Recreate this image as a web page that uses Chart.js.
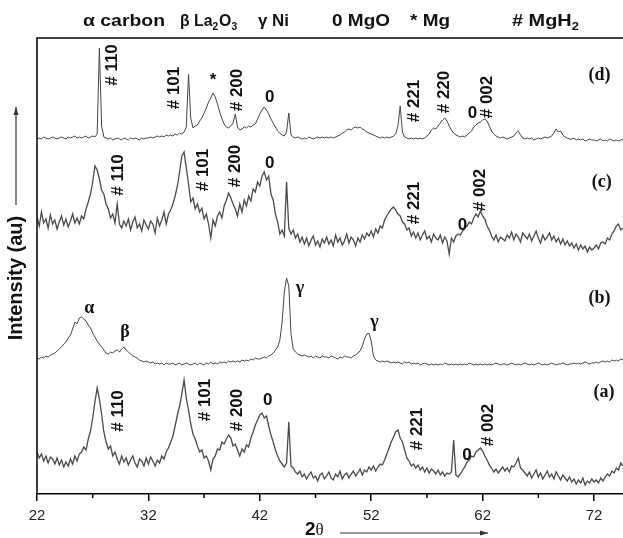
<!DOCTYPE html>
<html>
<head>
<meta charset="utf-8">
<script src="https://cdn.jsdelivr.net/npm/chart.js@4.4.0/dist/chart.umd.min.js"></script>
<style>
  html, body { margin: 0; padding: 0; background: #fff; }
</style>
</head>
<body>
<canvas id="xrdChart" width="623" height="538"></canvas>
<script>
// 2theta scan grid (deg)
const thetaStart = 22;
const thetaStep = 0.2;
const thetaCount = 264;
const twoTheta = [];
for (let i = 0; i < thetaCount; i++) {
    twoTheta.push(Math.round((thetaStart + i * thetaStep) * 10) / 10);
}

// intensity (au), one row = 2 deg
const sampleA = [
    42, 36, 40, 33, 38, 31, 37, 35, 30, 36,
    29, 34, 27, 32, 28, 35, 30, 38, 33, 40,
    42, 47, 44, 55, 63, 76, 92, 106, 95, 80,
    62, 52, 45, 48, 38, 42, 35, 30, 38, 32,
    36, 29, 34, 38, 31, 27, 35, 33, 28, 36,
    30, 37, 33, 28, 34, 31, 38, 35, 42, 46,
    52, 58, 68, 79, 88, 100, 114, 96, 84, 70,
    60, 55, 48, 42, 44, 36, 38, 33, 24, 35,
    38, 45, 44, 52, 50, 55, 59, 56, 48, 50,
    44, 38, 45, 42, 49, 47, 56, 62, 69, 74,
    79, 81, 76, 78, 68, 59, 52, 44, 38, 33,
    30, 27, 31, 72, 28, 26, 22, 20, 23, 17,
    20, 15, 19, 22, 16, 18, 13, 19, 21, 15,
    18, 22, 16, 14, 20, 17, 23, 15, 19, 21,
    16, 20, 23, 18, 21, 25, 19, 24, 22, 27,
    24, 28, 23, 27, 30, 29, 34, 40, 46, 52,
    57, 62, 64, 56, 52, 44, 36, 33, 28, 30,
    26, 29, 24, 27, 22, 26, 21, 25, 23, 20,
    24, 19, 22, 18, 21, 20, 22, 54, 19, 17,
    20, 24, 27, 32, 34, 38, 37, 42, 44, 46,
    43, 38, 34, 29, 26, 22, 25, 21, 24, 27,
    23, 26, 22, 28, 27, 31, 36, 26, 24, 21,
    18, 22, 16, 20, 24, 17, 21, 15, 19, 23,
    17, 20, 15, 22, 18, 14, 19, 16, 13, 17,
    12, 15, 10, 14, 11, 16, 9, 13, 11, 15,
    12, 14, 11, 16, 13, 17, 20, 18, 23, 21,
    26, 24, 31, 28
];
const sampleB = [
    16, 15, 17, 16, 18, 17, 19, 20, 21, 23,
    25, 27, 30, 32, 36, 39, 45, 52, 50, 56,
    57, 55, 53, 49, 46, 41, 37, 33, 30, 27,
    24, 21, 20, 22, 21, 23, 24, 22, 25, 27,
    24, 22, 20, 18, 17, 16, 14, 13, 12, 13,
    12, 11, 12, 10, 11, 10, 11, 9, 11, 10,
    10, 11, 9, 10, 11, 9, 10, 11, 10, 9,
    10, 11, 9, 11, 10, 9, 11, 10, 12, 10,
    11, 10, 12, 11, 12, 11, 13, 12, 13, 12,
    13, 12, 14, 13, 14, 13, 15, 14, 16, 15,
    15, 16, 17, 16, 18, 19, 21, 24, 27, 34,
    52, 82, 96, 88, 40, 25, 22, 20, 19, 18,
    19, 18, 17, 18, 16, 18, 17, 16, 18, 17,
    17, 16, 18, 17, 16, 15, 17, 16, 18, 17,
    17, 16, 18, 19, 21, 23, 28, 35, 40, 41,
    33, 18, 14, 13, 12, 13, 12, 13, 12, 11,
    12, 11, 12, 11, 10, 12, 11, 12, 10, 11,
    10, 11, 9, 10, 11, 10, 9, 10, 9, 10,
    9, 10, 9, 11, 10, 9, 10, 9, 10, 9,
    10, 9, 10, 9, 11, 10, 9, 10, 9, 10,
    9, 10, 9, 10, 9, 10, 11, 10, 9, 10,
    10, 9, 10, 11, 10, 9, 10, 9, 10, 11,
    10, 9, 10, 9, 10, 11, 10, 9, 10, 9,
    10, 11, 10, 9, 10, 10, 11, 10, 9, 10,
    10, 11, 10, 11, 10, 11, 12, 11, 10, 11,
    11, 12, 11, 12, 13, 12, 13, 12, 14, 13,
    14, 13, 15, 14
];
const sampleC = [
    47, 38, 52, 41, 45, 36, 49, 40, 44, 35,
    42, 48, 39, 45, 37, 43, 50, 41, 46, 40,
    48, 45, 55, 62, 70, 82, 98, 94, 85, 74,
    70, 60, 55, 46, 50, 41, 60, 40, 36, 43,
    38, 45, 34, 42, 47, 36, 40, 33, 44, 39,
    35, 43, 40, 31, 46, 38, 44, 52, 40, 50,
    54, 60, 68, 78, 92, 108, 112, 96, 80, 62,
    66, 55, 60, 52, 56, 45, 50, 40, 26, 44,
    38, 48, 52, 46, 58, 64, 71, 66, 60, 55,
    48, 60, 52, 64, 58, 68, 63, 75, 72, 82,
    78, 88, 92, 84, 88, 70, 64, 50, 42, 30,
    34, 28, 82, 36, 30, 34, 26, 30, 22, 27,
    20, 26, 18, 24, 28, 19, 23, 17, 25, 21,
    27, 20, 24, 18, 29, 22, 26, 19, 23, 30,
    21, 27, 24, 18, 26, 22, 29, 25, 31, 28,
    33, 27, 35, 31, 38, 36, 44, 48, 52, 55,
    57, 54, 50, 48, 42, 40, 34, 36, 28, 32,
    26, 31, 24, 29, 33, 25, 28, 22, 30, 26,
    24, 29, 21, 27, 23, 10, 26, 22, 28, 30,
    29, 33, 36, 38, 42, 40, 46, 50, 47, 53,
    48, 45, 38, 34, 28, 24, 29, 22, 27, 25,
    23, 29, 26, 32, 24, 30, 27, 22, 31, 28,
    25, 30, 23, 28, 33, 26, 21, 29, 24, 27,
    31, 24, 28, 22, 26, 20, 25, 19, 23, 18,
    21, 16, 20, 14, 19, 15, 18, 12, 17, 14,
    16, 19, 15, 21, 22, 20, 26, 24, 30, 33,
    38, 40, 34, 36
];
const sampleD = [
    15, 16, 15, 17, 16, 15, 16, 17, 16, 15,
    16, 17, 16, 15, 17, 16, 17, 18, 16, 17,
    16, 17, 18, 16, 17, 18, 17, 20, 106, 28,
    17, 16, 15, 16, 14, 15, 16, 15, 14, 16,
    15, 14, 16, 15, 16, 15, 14, 16, 15, 16,
    16, 17, 16, 17, 18, 17, 18, 17, 19, 18,
    19, 18, 20, 19, 21, 20, 22, 27, 80, 36,
    26, 28, 29, 33, 36, 41, 46, 52, 56, 61,
    57, 50, 42, 35, 30, 27, 26, 28, 31, 40,
    27, 24, 25, 27, 26, 28, 27, 29, 30, 35,
    40, 44, 47, 44, 40, 35, 31, 27, 23, 21,
    19, 18, 22, 41, 19, 17, 16, 17, 16, 15,
    16, 15, 17, 16, 15, 16, 17, 16, 17, 16,
    17, 16, 17, 16, 17, 18, 19, 21, 22, 24,
    25, 24, 26, 27, 26, 27, 25, 24, 22, 21,
    20, 19, 18, 17, 16, 17, 16, 17, 16, 17,
    18, 20, 28, 48, 22, 17, 16, 15, 16, 15,
    16, 15, 16, 15, 16, 18, 20, 24, 26, 25,
    28, 31, 34, 36, 33, 28, 24, 21, 19, 18,
    17, 18, 17, 19, 21, 23, 27, 29, 31, 32,
    34, 35, 33, 28, 23, 20, 18, 17, 16, 17,
    16, 15, 16, 17, 18, 21, 23, 19, 16, 15,
    16, 15, 16, 14, 15, 16, 15, 16, 17, 16,
    17, 18, 21, 25, 22, 23, 19, 17, 16, 15,
    15, 16, 14, 15, 14, 15, 13, 14, 15, 14,
    14, 13, 14, 15, 13, 14, 13, 15, 14, 13,
    14, 13, 14, 15
];

// vertical stacking of the patterns
const sampleNames = ['(a)', '(b)', '(c)', '(d)'];
const sampleOffsets = [0, 120, 230, 340];
const samples = [sampleA, sampleB, sampleC, sampleD];

const majorTicks = [22, 32, 42, 52, 62, 72];
const minorTicks = [27, 37, 47, 57, 67];

// phase key on top (x = start, w = printed width)
const phaseKey = [
    { x: 83, w: 82, parts: ['\u03b1 carbon'] },
    { x: 180, w: 58, parts: ['\u03b2 La', '_2', 'O', '_3'] },
    { x: 258, w: 31, parts: ['\u03b3 Ni'] },
    { x: 332, w: 58, parts: ['0 MgO'] },
    { x: 410, w: 40, parts: ['* Mg'] },
    { x: 512, w: 68, parts: ['# MgH', '_2'] }
];

// peak labels: [2theta, stacked intensity, text, kind]
const peakLabels = [
    [28.8, 429, '# 110', 'hkl'], [34.3, 406, '# 101', 'hkl'], [40.0, 404, '# 200', 'hkl'],
    [55.9, 393, '# 221', 'hkl'], [58.6, 402, '# 220', 'hkl'], [62.4, 397, '# 002', 'hkl'],
    [37.8, 414, '*', 'mark'], [42.9, 397, '0', 'mark'], [61.1, 381, '0', 'mark'],
    [72.5, 419, '(d)', 'tag'],
    [29.3, 319, '# 110', 'hkl'], [36.9, 324, '# 101', 'hkl'], [39.8, 328, '# 200', 'hkl'],
    [55.9, 291, '# 221', 'hkl'], [61.8, 304, '# 002', 'hkl'],
    [42.9, 331, '0', 'mark'], [60.2, 269, '0', 'mark'],
    [72.7, 312, '(c)', 'tag'],
    [26.7, 186, '\u03b1', 'greek'], [29.9, 162, '\u03b2', 'greek'],
    [45.6, 206, '\u03b3', 'greek'], [52.3, 172, '\u03b3', 'greek'],
    [72.5, 196, '(b)', 'tag'],
    [29.3, 83, '# 110', 'hkl'], [37.1, 94, '# 101', 'hkl'], [40.0, 84, '# 200', 'hkl'],
    [56.1, 65, '# 221', 'hkl'], [62.5, 69, '# 002', 'hkl'],
    [42.7, 94, '0', 'mark'], [60.6, 39, '0', 'mark'],
    [72.9, 102, '(a)', 'tag']
];

function drawArrow(ctx, x1, y1, x2, y2) {
    const a = Math.atan2(y2 - y1, x2 - x1);
    ctx.beginPath();
    ctx.moveTo(x1, y1);
    ctx.lineTo(x2, y2);
    ctx.stroke();
    ctx.beginPath();
    ctx.moveTo(x2, y2);
    ctx.lineTo(x2 - 8 * Math.cos(a) + 2.5 * Math.sin(a), y2 - 8 * Math.sin(a) - 2.5 * Math.cos(a));
    ctx.lineTo(x2 - 8 * Math.cos(a) - 2.5 * Math.sin(a), y2 - 8 * Math.sin(a) + 2.5 * Math.cos(a));
    ctx.closePath();
    ctx.fill();
}

function keyWidth(ctx, parts) {
    let w = 0;
    parts.forEach(p => {
        const sub = p.startsWith('_');
        ctx.font = 'bold ' + (sub ? 11 : 17) + 'px Arial';
        w += ctx.measureText(sub ? p.slice(1) : p).width + (sub ? 1 : 0);
    });
    return w;
}

const decorations = {
    id: 'decorations',
    afterDraw(chart) {
        const ctx = chart.ctx;
        const area = chart.chartArea;
        const xs = chart.scales.x;
        const ys = chart.scales.y;
        ctx.save();
        ctx.strokeStyle = '#000';
        ctx.fillStyle = '#111';
        ctx.lineWidth = 1.5;

        // left and top frame
        ctx.beginPath();
        ctx.moveTo(area.left, area.bottom);
        ctx.lineTo(area.left, area.top);
        ctx.lineTo(chart.width, area.top);
        ctx.stroke();

        // minor ticks
        minorTicks.forEach(v => {
            const px = xs.getPixelForValue(v);
            ctx.beginPath();
            ctx.moveTo(px, area.bottom);
            ctx.lineTo(px, area.bottom + 4);
            ctx.stroke();
        });

        // phase key
        ctx.textBaseline = 'alphabetic';
        ctx.textAlign = 'left';
        phaseKey.forEach(item => {
            const sx = item.w / keyWidth(ctx, item.parts);
            ctx.save();
            ctx.translate(item.x, 26);
            ctx.scale(sx, 1);
            let cx = 0;
            item.parts.forEach(p => {
                const sub = p.startsWith('_');
                const txt = sub ? p.slice(1) : p;
                ctx.font = 'bold ' + (sub ? 11 : 17) + 'px Arial';
                ctx.fillText(txt, cx, sub ? 4 : 0);
                cx += ctx.measureText(txt).width + (sub ? 1 : 0);
            });
            ctx.restore();
        });

        // y title and arrow
        ctx.save();
        ctx.translate(16, 278);
        ctx.rotate(-Math.PI / 2);
        ctx.textAlign = 'center';
        ctx.textBaseline = 'middle';
        ctx.font = 'bold 20px Arial';
        ctx.fillText('Intensity (au)', 0, 0);
        ctx.restore();
        ctx.lineWidth = 1.2;
        ctx.strokeStyle = '#333';
        ctx.fillStyle = '#333';
        drawArrow(ctx, 16, 205, 16, 107);

        // x title and arrow
        ctx.fillStyle = '#111';
        ctx.textAlign = 'left';
        ctx.textBaseline = 'alphabetic';
        ctx.font = 'bold 19px Arial';
        ctx.fillText('2', 305, 535);
        const w2 = ctx.measureText('2').width;
        ctx.font = '17px "Liberation Serif"';
        ctx.fillText('\u03b8', 305 + w2, 535);
        ctx.fillStyle = '#333';
        drawArrow(ctx, 340, 533, 488, 533);

        // peak labels
        ctx.fillStyle = '#111';
        ctx.textAlign = 'center';
        ctx.textBaseline = 'middle';
        peakLabels.forEach(([t, v, txt, kind]) => {
            const px = xs.getPixelForValue(t);
            const py = ys.getPixelForValue(v);
            if (kind === 'hkl') {
                ctx.save();
                ctx.translate(px, py);
                ctx.rotate(-Math.PI / 2);
                ctx.font = 'bold 17px Arial';
                ctx.fillText(txt, 0, 0);
                ctx.restore();
            } else if (kind === 'mark') {
                ctx.font = 'bold 17px Arial';
                ctx.fillText(txt, px, py);
            } else {
                ctx.font = 'bold 18px "Liberation Serif"';
                ctx.fillText(txt, px, py);
            }
        });
        ctx.restore();
    }
};

// noisy scans (a) and (c) print as a heavier grey band
const lineWidths = [1.3, 1, 1.3, 1];
const lineColors = ['#4a4a4a', '#444', '#4a4a4a', '#444'];

const ctx = document.getElementById('xrdChart');
const xrdChart = new Chart(ctx, {
    type: 'line',
    data: {
        datasets: samples.map((s, k) => ({
            label: sampleNames[k],
            data: twoTheta.map((t, i) => ({ x: t, y: s[i] + sampleOffsets[k] })),
            borderColor: lineColors[k],
            borderWidth: lineWidths[k],
            pointRadius: 0,
            tension: 0,
            fill: false
        }))
    },
    options: {
        responsive: false,
        animation: false,
        layout: { padding: { left: 37, top: 38, right: 0, bottom: 0 } },
        plugins: {
            legend: { display: false },
            tooltip: { enabled: false }
        },
        scales: {
            x: {
                type: 'linear',
                min: 22,
                max: 74.6,
                afterBuildTicks: scale => {
                    scale.ticks = majorTicks.map(v => ({ value: v }));
                },
                afterFit: scale => {
                    scale.height = 44;
                },
                grid: {
                    drawOnChartArea: false,
                    drawTicks: true,
                    tickLength: 7,
                    color: '#000',
                    lineWidth: 1.5
                },
                border: { display: true, color: '#000', width: 1.5 },
                ticks: {
                    font: { family: 'Arial', size: 15 },
                    color: '#222',
                    padding: 6,
                    maxRotation: 0,
                    autoSkip: false
                }
            },
            y: {
                display: false,
                min: 0,
                max: 456
            }
        }
    },
    plugins: [decorations]
});
</script>
</body>
</html>
